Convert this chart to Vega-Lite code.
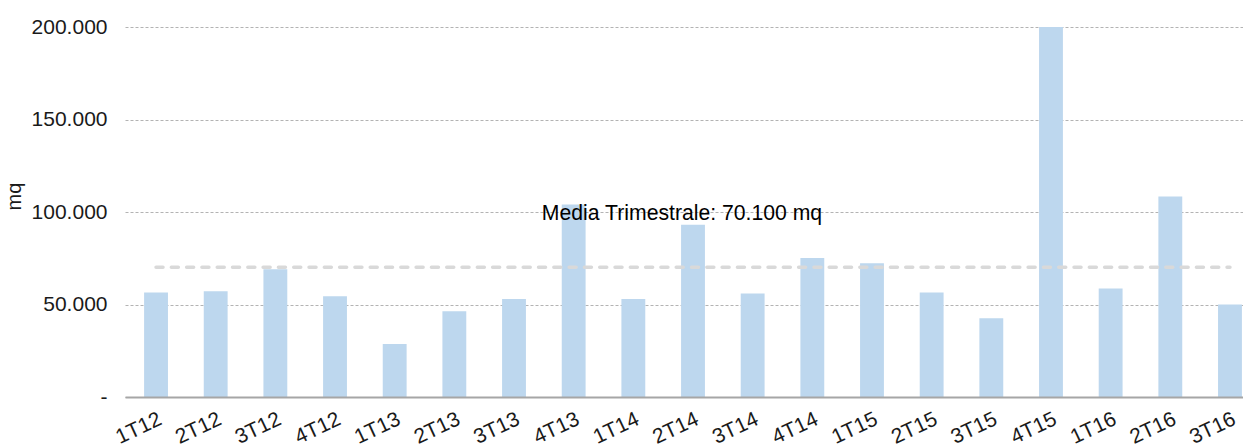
{
  "$schema": "https://vega.github.io/schema/vega-lite/v6.json",
  "autosize": {"type": "none"},
  "padding": {"left": 125, "top": 27, "right": 0, "bottom": 51},
  "width": 1118,
  "height": 370,
  "background": "#ffffff",
  "config": {
    "font": "Liberation Sans",
    "view": {"stroke": null}
  },
  "data": {
    "values": [
      {"trimestre": "1T12", "mq": 56500},
      {"trimestre": "2T12", "mq": 57200},
      {"trimestre": "3T12", "mq": 69000},
      {"trimestre": "4T12", "mq": 54500},
      {"trimestre": "1T13", "mq": 28600},
      {"trimestre": "2T13", "mq": 46400},
      {"trimestre": "3T13", "mq": 53000},
      {"trimestre": "4T13", "mq": 104100},
      {"trimestre": "1T14", "mq": 53000},
      {"trimestre": "2T14", "mq": 93100},
      {"trimestre": "3T14", "mq": 55900},
      {"trimestre": "4T14", "mq": 75100},
      {"trimestre": "1T15", "mq": 72300},
      {"trimestre": "2T15", "mq": 56500},
      {"trimestre": "3T15", "mq": 42600},
      {"trimestre": "4T15", "mq": 200000},
      {"trimestre": "1T16", "mq": 58600},
      {"trimestre": "2T16", "mq": 108400},
      {"trimestre": "3T16", "mq": 50000}
    ]
  },
  "layer": [
    {
      "mark": {"type": "bar", "color": "#bdd7ee"},
      "encoding": {
        "x": {
          "field": "trimestre",
          "type": "nominal",
          "sort": null,
          "scale": {
            "domain": ["1T12","2T12","3T12","4T12","1T13","2T13","3T13","4T13","1T14","2T14","3T14","4T14","1T15","2T15","3T15","4T15","1T16","2T16","3T16"],
            "range": [0, 1136],
            "paddingInner": 0.6,
            "paddingOuter": 0.32
          },
          "axis": {
            "title": null,
            "labelAngle": -25,
            "labelFontSize": 21,
            "labelColor": "#1a1a1a",
            "labelPadding": 11,
            "labelOffset": 0,
            "ticks": false,
            "grid": false,
            "domainColor": "#a6a6a6",
            "domainWidth": 2,
            "zindex": 1
          }
        },
        "y": {
          "field": "mq",
          "type": "quantitative",
          "scale": {"domain": [0, 200000], "nice": false},
          "axis": {
            "title": "mq",
            "titleFontSize": 20,
            "titleFontWeight": "normal",
            "titleColor": "#1a1a1a",
            "titleX": -101,
            "titleY": 169,
            "values": [0, 50000, 100000, 150000, 200000],
            "labelExpr": "datum.value == 0 ? '-' : replace(format(datum.value, ','), ',', '.')",
            "labelFontSize": 21,
            "labelColor": "#1a1a1a",
            "labelPadding": 18,
            "domain": false,
            "ticks": false,
            "grid": true,
            "gridColor": "#b3b3b3",
            "gridDash": [3, 2],
            "gridWidth": 1
          }
        }
      }
    },
    {
      "data": {"values": [{}]},
      "mark": {"type": "rule", "color": "#d9d9d9", "strokeWidth": 3.5, "strokeDash": [7, 8.3], "strokeCap": "round"},
      "encoding": {
        "x": {"datum": "1T12", "type": "nominal"},
        "x2": {"datum": "3T16"},
        "y": {"datum": 70100, "type": "quantitative"}
      }
    },
    {
      "data": {"values": [{"etichetta": "Media Trimestrale: 70.100 mq"}]},
      "mark": {"type": "text", "fontSize": 21.2, "color": "#000000", "align": "center", "baseline": "middle", "dx": -11, "dy": 2},
      "encoding": {
        "x": {"datum": "2T14", "type": "nominal"},
        "y": {"datum": 100000, "type": "quantitative"},
        "text": {"field": "etichetta", "type": "nominal"}
      }
    }
  ]
}
